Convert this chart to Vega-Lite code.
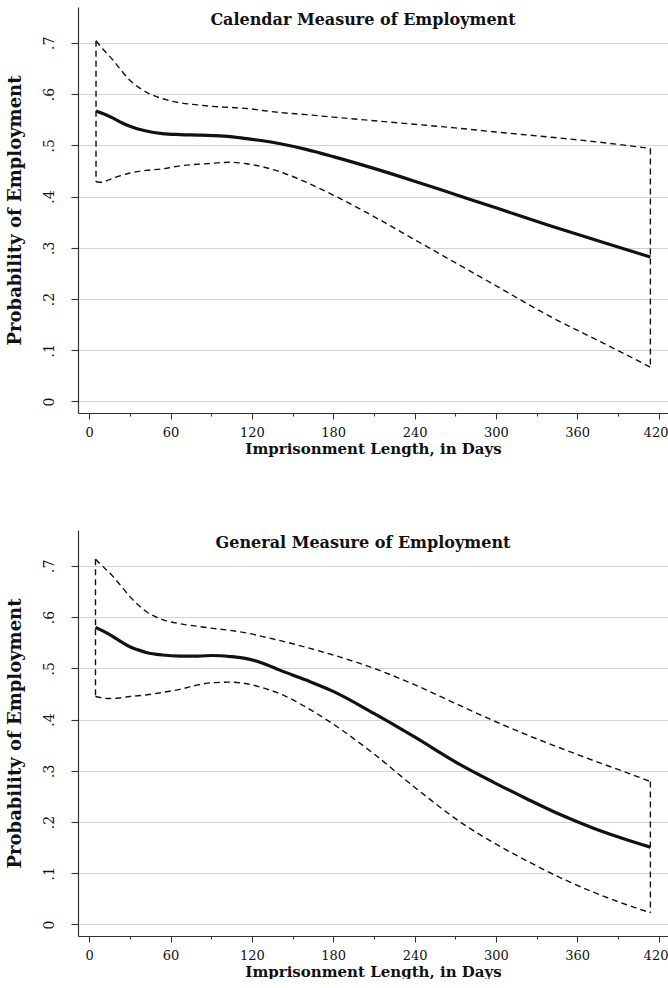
{
  "$schema": "https://vega.github.io/schema/vega-lite/v6.json",
  "background": "white",
  "padding": {"left": 6, "top": 7, "right": 0, "bottom": 0},
  "spacing": 117,
  "bounds": "flush",
  "config": {
    "font": "DejaVu Serif",
    "view": {"stroke": null},
    "axis": {
      "labelFont": "DejaVu Serif",
      "titleFont": "DejaVu Serif",
      "labelColor": "#111",
      "titleColor": "#111",
      "domainColor": "#333",
      "tickColor": "#333",
      "domainWidth": 1.2,
      "tickWidth": 1.1
    },
    "title": {"font": "DejaVu Serif", "fontWeight": "bold", "fontSize": 16, "color": "#111"}
  },
  "datasets": {
    "curves": [
      {"panel": "cal", "s": "upper", "day": 5, "p": 0.704},
      {"panel": "cal", "s": "upper", "day": 10, "p": 0.688},
      {"panel": "cal", "s": "upper", "day": 17.6, "p": 0.666},
      {"panel": "cal", "s": "upper", "day": 24, "p": 0.645},
      {"panel": "cal", "s": "upper", "day": 30, "p": 0.627},
      {"panel": "cal", "s": "upper", "day": 36, "p": 0.614},
      {"panel": "cal", "s": "upper", "day": 42, "p": 0.604},
      {"panel": "cal", "s": "upper", "day": 54, "p": 0.591},
      {"panel": "cal", "s": "upper", "day": 67, "p": 0.583},
      {"panel": "cal", "s": "upper", "day": 80, "p": 0.579},
      {"panel": "cal", "s": "upper", "day": 91, "p": 0.576},
      {"panel": "cal", "s": "upper", "day": 104, "p": 0.574},
      {"panel": "cal", "s": "upper", "day": 116, "p": 0.572},
      {"panel": "cal", "s": "upper", "day": 128, "p": 0.568},
      {"panel": "cal", "s": "upper", "day": 141, "p": 0.564},
      {"panel": "cal", "s": "upper", "day": 160, "p": 0.560},
      {"panel": "cal", "s": "upper", "day": 180, "p": 0.555},
      {"panel": "cal", "s": "upper", "day": 210, "p": 0.548},
      {"panel": "cal", "s": "upper", "day": 240, "p": 0.541},
      {"panel": "cal", "s": "upper", "day": 270, "p": 0.534},
      {"panel": "cal", "s": "upper", "day": 300, "p": 0.526},
      {"panel": "cal", "s": "upper", "day": 340, "p": 0.516},
      {"panel": "cal", "s": "upper", "day": 380, "p": 0.505},
      {"panel": "cal", "s": "upper", "day": 414, "p": 0.494},
      {"panel": "cal", "s": "lower", "day": 5, "p": 0.429},
      {"panel": "cal", "s": "lower", "day": 9, "p": 0.428},
      {"panel": "cal", "s": "lower", "day": 15, "p": 0.433},
      {"panel": "cal", "s": "lower", "day": 22, "p": 0.440},
      {"panel": "cal", "s": "lower", "day": 30, "p": 0.446},
      {"panel": "cal", "s": "lower", "day": 42, "p": 0.451},
      {"panel": "cal", "s": "lower", "day": 54, "p": 0.454},
      {"panel": "cal", "s": "lower", "day": 67, "p": 0.460},
      {"panel": "cal", "s": "lower", "day": 80, "p": 0.463},
      {"panel": "cal", "s": "lower", "day": 91, "p": 0.465},
      {"panel": "cal", "s": "lower", "day": 104, "p": 0.467},
      {"panel": "cal", "s": "lower", "day": 116, "p": 0.464},
      {"panel": "cal", "s": "lower", "day": 128, "p": 0.458},
      {"panel": "cal", "s": "lower", "day": 141, "p": 0.448},
      {"panel": "cal", "s": "lower", "day": 160, "p": 0.428},
      {"panel": "cal", "s": "lower", "day": 180, "p": 0.403},
      {"panel": "cal", "s": "lower", "day": 210, "p": 0.361},
      {"panel": "cal", "s": "lower", "day": 240, "p": 0.316},
      {"panel": "cal", "s": "lower", "day": 270, "p": 0.271},
      {"panel": "cal", "s": "lower", "day": 300, "p": 0.226},
      {"panel": "cal", "s": "lower", "day": 340, "p": 0.166},
      {"panel": "cal", "s": "lower", "day": 380, "p": 0.113},
      {"panel": "cal", "s": "lower", "day": 414, "p": 0.067},
      {"panel": "gen", "s": "upper", "day": 4.6, "p": 0.713},
      {"panel": "gen", "s": "upper", "day": 10, "p": 0.699},
      {"panel": "gen", "s": "upper", "day": 17.6, "p": 0.679},
      {"panel": "gen", "s": "upper", "day": 24, "p": 0.659},
      {"panel": "gen", "s": "upper", "day": 30, "p": 0.640},
      {"panel": "gen", "s": "upper", "day": 36, "p": 0.624},
      {"panel": "gen", "s": "upper", "day": 42, "p": 0.611},
      {"panel": "gen", "s": "upper", "day": 54, "p": 0.595},
      {"panel": "gen", "s": "upper", "day": 67, "p": 0.587},
      {"panel": "gen", "s": "upper", "day": 80, "p": 0.582},
      {"panel": "gen", "s": "upper", "day": 91, "p": 0.578},
      {"panel": "gen", "s": "upper", "day": 104, "p": 0.574},
      {"panel": "gen", "s": "upper", "day": 116, "p": 0.569},
      {"panel": "gen", "s": "upper", "day": 128, "p": 0.562},
      {"panel": "gen", "s": "upper", "day": 141, "p": 0.554},
      {"panel": "gen", "s": "upper", "day": 160, "p": 0.541},
      {"panel": "gen", "s": "upper", "day": 180, "p": 0.526},
      {"panel": "gen", "s": "upper", "day": 210, "p": 0.500},
      {"panel": "gen", "s": "upper", "day": 240, "p": 0.468},
      {"panel": "gen", "s": "upper", "day": 273, "p": 0.428},
      {"panel": "gen", "s": "upper", "day": 298, "p": 0.398},
      {"panel": "gen", "s": "upper", "day": 323, "p": 0.370},
      {"panel": "gen", "s": "upper", "day": 347, "p": 0.345},
      {"panel": "gen", "s": "upper", "day": 372, "p": 0.320},
      {"panel": "gen", "s": "upper", "day": 396, "p": 0.297},
      {"panel": "gen", "s": "upper", "day": 414, "p": 0.279},
      {"panel": "gen", "s": "lower", "day": 4.6, "p": 0.445},
      {"panel": "gen", "s": "lower", "day": 10, "p": 0.442},
      {"panel": "gen", "s": "lower", "day": 15, "p": 0.441},
      {"panel": "gen", "s": "lower", "day": 22, "p": 0.442},
      {"panel": "gen", "s": "lower", "day": 30, "p": 0.445},
      {"panel": "gen", "s": "lower", "day": 42, "p": 0.448},
      {"panel": "gen", "s": "lower", "day": 54, "p": 0.453},
      {"panel": "gen", "s": "lower", "day": 67, "p": 0.459},
      {"panel": "gen", "s": "lower", "day": 79, "p": 0.467},
      {"panel": "gen", "s": "lower", "day": 91, "p": 0.472},
      {"panel": "gen", "s": "lower", "day": 104, "p": 0.473},
      {"panel": "gen", "s": "lower", "day": 116, "p": 0.470},
      {"panel": "gen", "s": "lower", "day": 128, "p": 0.462},
      {"panel": "gen", "s": "lower", "day": 141, "p": 0.450},
      {"panel": "gen", "s": "lower", "day": 160, "p": 0.424},
      {"panel": "gen", "s": "lower", "day": 180, "p": 0.391},
      {"panel": "gen", "s": "lower", "day": 210, "p": 0.333},
      {"panel": "gen", "s": "lower", "day": 240, "p": 0.268},
      {"panel": "gen", "s": "lower", "day": 276, "p": 0.196},
      {"panel": "gen", "s": "lower", "day": 298, "p": 0.160},
      {"panel": "gen", "s": "lower", "day": 323, "p": 0.124},
      {"panel": "gen", "s": "lower", "day": 347, "p": 0.092},
      {"panel": "gen", "s": "lower", "day": 372, "p": 0.063},
      {"panel": "gen", "s": "lower", "day": 396, "p": 0.039},
      {"panel": "gen", "s": "lower", "day": 414, "p": 0.023}
    ],
    "edges": [
      {"panel": "cal", "s": "left", "day": 5, "p": 0.704},
      {"panel": "cal", "s": "left", "day": 5, "p": 0.429},
      {"panel": "cal", "s": "right", "day": 414, "p": 0.494},
      {"panel": "cal", "s": "right", "day": 414, "p": 0.067},
      {"panel": "gen", "s": "left", "day": 4.6, "p": 0.713},
      {"panel": "gen", "s": "left", "day": 4.6, "p": 0.445},
      {"panel": "gen", "s": "right", "day": 414, "p": 0.279},
      {"panel": "gen", "s": "right", "day": 414, "p": 0.023}
    ],
    "main": [
      {"panel": "cal", "day": 5, "p": 0.567},
      {"panel": "cal", "day": 10, "p": 0.562},
      {"panel": "cal", "day": 17.6, "p": 0.553},
      {"panel": "cal", "day": 24, "p": 0.544},
      {"panel": "cal", "day": 30, "p": 0.537},
      {"panel": "cal", "day": 36, "p": 0.532},
      {"panel": "cal", "day": 42, "p": 0.528},
      {"panel": "cal", "day": 54, "p": 0.523},
      {"panel": "cal", "day": 67, "p": 0.521},
      {"panel": "cal", "day": 80, "p": 0.520},
      {"panel": "cal", "day": 91, "p": 0.519},
      {"panel": "cal", "day": 104, "p": 0.517},
      {"panel": "cal", "day": 116, "p": 0.513},
      {"panel": "cal", "day": 128, "p": 0.509},
      {"panel": "cal", "day": 141, "p": 0.503},
      {"panel": "cal", "day": 160, "p": 0.492},
      {"panel": "cal", "day": 180, "p": 0.478},
      {"panel": "cal", "day": 210, "p": 0.455},
      {"panel": "cal", "day": 240, "p": 0.430},
      {"panel": "cal", "day": 270, "p": 0.404},
      {"panel": "cal", "day": 300, "p": 0.378},
      {"panel": "cal", "day": 340, "p": 0.343},
      {"panel": "cal", "day": 380, "p": 0.310},
      {"panel": "cal", "day": 414, "p": 0.282},
      {"panel": "gen", "day": 4.6, "p": 0.580},
      {"panel": "gen", "day": 10, "p": 0.573},
      {"panel": "gen", "day": 17.6, "p": 0.562},
      {"panel": "gen", "day": 24, "p": 0.551},
      {"panel": "gen", "day": 30, "p": 0.542},
      {"panel": "gen", "day": 36, "p": 0.536},
      {"panel": "gen", "day": 42, "p": 0.531},
      {"panel": "gen", "day": 54, "p": 0.526},
      {"panel": "gen", "day": 67, "p": 0.524},
      {"panel": "gen", "day": 80, "p": 0.524},
      {"panel": "gen", "day": 91, "p": 0.525},
      {"panel": "gen", "day": 104, "p": 0.523},
      {"panel": "gen", "day": 116, "p": 0.519},
      {"panel": "gen", "day": 128, "p": 0.510},
      {"panel": "gen", "day": 141, "p": 0.496},
      {"panel": "gen", "day": 160, "p": 0.477},
      {"panel": "gen", "day": 180, "p": 0.455},
      {"panel": "gen", "day": 210, "p": 0.412},
      {"panel": "gen", "day": 240, "p": 0.366},
      {"panel": "gen", "day": 273, "p": 0.313},
      {"panel": "gen", "day": 298, "p": 0.278},
      {"panel": "gen", "day": 323, "p": 0.245},
      {"panel": "gen", "day": 347, "p": 0.215},
      {"panel": "gen", "day": 372, "p": 0.188},
      {"panel": "gen", "day": 396, "p": 0.166},
      {"panel": "gen", "day": 414, "p": 0.151}
    ]
  },
  "vconcat": [
    {
      "width": 590,
      "height": 406,
      "title": {"text": "Calendar Measure of Employment", "offset": -34, "baseline": "alphabetic", "anchor": "middle", "dx": -10},
      "layer": [
        {
          "data": {"name": "curves"},
          "transform": [{"filter": "datum.panel === 'cal'"}],
          "mark": {"type": "line", "color": "#111", "strokeWidth": 1.4, "strokeDash": [6, 4], "interpolate": "monotone"},
          "encoding": {
            "x": {"field": "day", "type": "quantitative", "scale": {"domain": [-8.3, 427], "nice": false, "zero": false},
              "axis": {"title": "Imprisonment Length, in Days", "titleFontSize": 15, "titleFontWeight": "bold", "titlePadding": 2,
                "values": [0,15,30,45,60,75,90,105,120,135,150,165,180,195,210,225,240,255,270,285,300,315,330,345,360,375,390,405,420],
                "labelExpr": "datum.value % 60 === 0 ? datum.label : ''", "labelFontSize": 13, "labelPadding": 7,
                "labelOffset": {"condition": {"test": "datum.value === 420", "value": -3}, "value": 0},
                "tickSize": {"condition": {"test": "datum.value % 60 === 0", "value": 6}, "value": 3},
                "grid": false, "labelFlush": false, "labelOverlap": false}},
            "y": {"field": "p", "type": "quantitative", "scale": {"domain": [-0.0225, 0.77], "nice": false, "zero": false},
              "axis": {"title": "Probability of Employment", "titleFontSize": 18, "titleFontWeight": "bold", "titleAngle": -90,
                "titleX": -58, "titleBaseline": "alphabetic", "titleAlign": "center",
                "values": [0, 0.1, 0.2, 0.3, 0.4, 0.5, 0.6, 0.7],
                "labelExpr": "datum.value === 0 ? '0' : replace(format(datum.value, '.1f'), '0.', '.')",
                "labelAngle": -90, "labelAlign": "center", "labelBaseline": "alphabetic", "labelFontSize": 14,
                "labelPadding": 18, "tickSize": 7, "grid": true, "gridColor": "#d4d4d4", "gridWidth": 1.2}},
            "detail": {"field": "s"}
          }
        },
        {
          "data": {"name": "edges"},
          "transform": [{"filter": "datum.panel === 'cal'"}],
          "mark": {"type": "line", "color": "#111", "strokeWidth": 1.4, "strokeDash": [6, 4]},
          "encoding": {
            "x": {"field": "day", "type": "quantitative"},
            "y": {"field": "p", "type": "quantitative"},
            "detail": {"field": "s"}
          }
        },
        {
          "data": {"name": "main"},
          "transform": [{"filter": "datum.panel === 'cal'"}],
          "mark": {"type": "line", "color": "#111", "strokeWidth": 3.2, "interpolate": "monotone"},
          "encoding": {
            "x": {"field": "day", "type": "quantitative"},
            "y": {"field": "p", "type": "quantitative"}
          }
        }
      ]
    },
    {
      "width": 590,
      "height": 406,
      "title": {"text": "General Measure of Employment", "offset": -34, "baseline": "alphabetic", "anchor": "middle", "dx": -10},
      "layer": [
        {
          "data": {"name": "curves"},
          "transform": [{"filter": "datum.panel === 'gen'"}],
          "mark": {"type": "line", "color": "#111", "strokeWidth": 1.4, "strokeDash": [6, 4], "interpolate": "monotone"},
          "encoding": {
            "x": {"field": "day", "type": "quantitative", "scale": {"domain": [-8.3, 427], "nice": false, "zero": false},
              "axis": {"title": "Imprisonment Length, in Days", "titleFontSize": 15, "titleFontWeight": "bold", "titlePadding": 2,
                "values": [0,15,30,45,60,75,90,105,120,135,150,165,180,195,210,225,240,255,270,285,300,315,330,345,360,375,390,405,420],
                "labelExpr": "datum.value % 60 === 0 ? datum.label : ''", "labelFontSize": 13, "labelPadding": 7,
                "labelOffset": {"condition": {"test": "datum.value === 420", "value": -3}, "value": 0},
                "tickSize": {"condition": {"test": "datum.value % 60 === 0", "value": 6}, "value": 3},
                "grid": false, "labelFlush": false, "labelOverlap": false}},
            "y": {"field": "p", "type": "quantitative", "scale": {"domain": [-0.0225, 0.77], "nice": false, "zero": false},
              "axis": {"title": "Probability of Employment", "titleFontSize": 18, "titleFontWeight": "bold", "titleAngle": -90,
                "titleX": -58, "titleBaseline": "alphabetic", "titleAlign": "center",
                "values": [0, 0.1, 0.2, 0.3, 0.4, 0.5, 0.6, 0.7],
                "labelExpr": "datum.value === 0 ? '0' : replace(format(datum.value, '.1f'), '0.', '.')",
                "labelAngle": -90, "labelAlign": "center", "labelBaseline": "alphabetic", "labelFontSize": 14,
                "labelPadding": 18, "tickSize": 7, "grid": true, "gridColor": "#d4d4d4", "gridWidth": 1.2}},
            "detail": {"field": "s"}
          }
        },
        {
          "data": {"name": "edges"},
          "transform": [{"filter": "datum.panel === 'gen'"}],
          "mark": {"type": "line", "color": "#111", "strokeWidth": 1.4, "strokeDash": [6, 4]},
          "encoding": {
            "x": {"field": "day", "type": "quantitative"},
            "y": {"field": "p", "type": "quantitative"},
            "detail": {"field": "s"}
          }
        },
        {
          "data": {"name": "main"},
          "transform": [{"filter": "datum.panel === 'gen'"}],
          "mark": {"type": "line", "color": "#111", "strokeWidth": 3.2, "interpolate": "monotone"},
          "encoding": {
            "x": {"field": "day", "type": "quantitative"},
            "y": {"field": "p", "type": "quantitative"}
          }
        }
      ]
    }
  ]
}
